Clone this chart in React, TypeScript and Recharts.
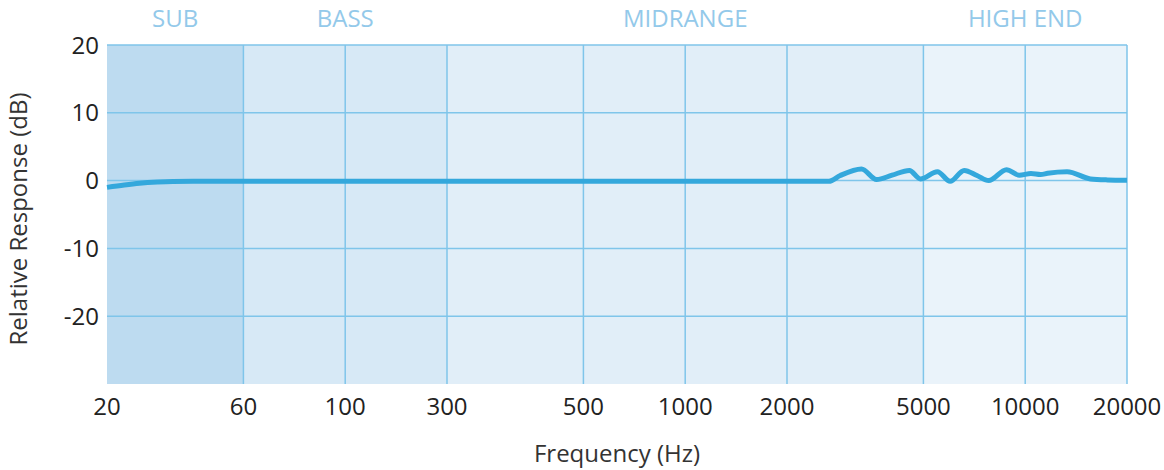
import {
  ComposedChart,
  Line,
  XAxis,
  YAxis,
  ReferenceArea,
  ReferenceLine,
  Label,
} from "recharts";

// axis stops (frequency ticks) and their position along the bent axis
const tickFreqs = [20, 60, 100, 300, 500, 1000, 2000, 5000, 10000, 20000];
const tickStops = [0, 1.34, 2.34, 3.34, 4.68, 5.68, 6.68, 8.02, 9.02, 10.02];
const dbTicks = [-20, -10, 0, 10, 20];

// frequency bands
const bandNames = ["SUB", "BASS", "MIDRANGE", "HIGH END"];
const bandFrom = [20, 60, 300, 5000];
const bandTo = [60, 300, 5000, 20000];
const bandColors = ["#bddbf0", "#d7e9f6", "#e1eef8", "#eaf3fa"];

// measured response curve
const freqs = [
  20, 23, 26, 30, 34, 40, 60, 100, 300, 500, 1000, 2000, 2650, 2860, 3300,
  3650, 4050, 4550, 4900, 5500, 6000, 6600, 7200, 7800, 8800, 9600, 10400,
  11100, 11650, 13300, 15600, 17500, 20000,
];
const response = [
  -1.0, -0.65, -0.4, -0.22, -0.13, -0.1, -0.1, -0.1, -0.1, -0.1, -0.1, -0.1,
  -0.1, 0.75, 1.7, 0.15, 0.8, 1.5, 0.25, 1.3, -0.1, 1.5, 0.75, 0, 1.6, 0.8,
  1.05, 0.9, 1.08, 1.3, 0.25, 0.1, 0.05,
];

const pos = (f: number) => {
  for (let i = 0; i < tickFreqs.length - 1; i++) {
    if (f <= tickFreqs[i + 1]) {
      const t = Math.log(f / tickFreqs[i]) / Math.log(tickFreqs[i + 1] / tickFreqs[i]);
      return tickStops[i] + (tickStops[i + 1] - tickStops[i]) * t;
    }
  }
  return tickStops[tickStops.length - 1];
};

const data = freqs.map((f, i) => ({ x: pos(f), db: response[i] }));

const FONT = "'Open Sans', sans-serif";
const GRID = "#7fc5ea";

export default function App() {
  return (
    <div style={{ position: "absolute", left: 0, top: 0, width: 1164, height: 470, background: "#fff" }}>
      <ComposedChart
        width={1164}
        height={470}
        data={data}
        margin={{ top: 45, right: 37, left: 0, bottom: 0 }}
      >
        <XAxis
          dataKey="x"
          type="number"
          domain={[0, tickStops[tickStops.length - 1]]}
          ticks={tickStops}
          tickFormatter={(v: number) => String(tickFreqs[tickStops.indexOf(v)] ?? "")}
          axisLine={false}
          tickLine={false}
          tickSize={0}
          tickMargin={14}
          height={86}
          interval={0}
          tick={{ fill: "#222", fontSize: 24, fontFamily: FONT }}
        >
          <Label
            content={() => (
              <text
                x={617}
                y={462}
                textAnchor="middle"
                fill="#333"
                fontSize={24}
                fontFamily={FONT}
              >
                Frequency (Hz)
              </text>
            )}
          />
        </XAxis>
        <YAxis
          type="number"
          domain={[-30, 20]}
          ticks={dbTicks}
          axisLine={false}
          tickLine={false}
          tickSize={0}
          tickMargin={8}
          width={107}
          interval={0}
          tick={{ fill: "#222", fontSize: 24, fontFamily: FONT }}
        >
          <Label
            content={() => (
              <text
                x={27}
                y={219}
                textAnchor="middle"
                transform="rotate(-90, 27, 219)"
                fill="#333"
                fontSize={24}
                fontFamily={FONT}
              >
                Relative Response (dB)
              </text>
            )}
          />
        </YAxis>
        {bandNames.map((name, i) => (
          <ReferenceArea
            key={name}
            x1={pos(bandFrom[i])}
            x2={pos(bandTo[i])}
            y1={-30}
            y2={20}
            fill={bandColors[i]}
            fillOpacity={1}
            stroke="none"
            label={{
              value: name,
              position: "top",
              offset: 18,
              fill: "#93c9ea",
              fontSize: 24,
              fontFamily: FONT,
            }}
          />
        ))}
        {tickStops.slice(1).map((p) => (
          <ReferenceLine key={"v" + p} x={p} stroke={GRID} strokeWidth={1.5} />
        ))}
        {dbTicks.map((d) => (
          <ReferenceLine key={"h" + d} y={d} stroke={GRID} strokeWidth={1.5} />
        ))}
        <Line
          type="monotone"
          dataKey="db"
          stroke="#34a8dc"
          strokeWidth={5}
          dot={false}
          activeDot={false}
          isAnimationActive={false}
        />
      </ComposedChart>
    </div>
  );
}
